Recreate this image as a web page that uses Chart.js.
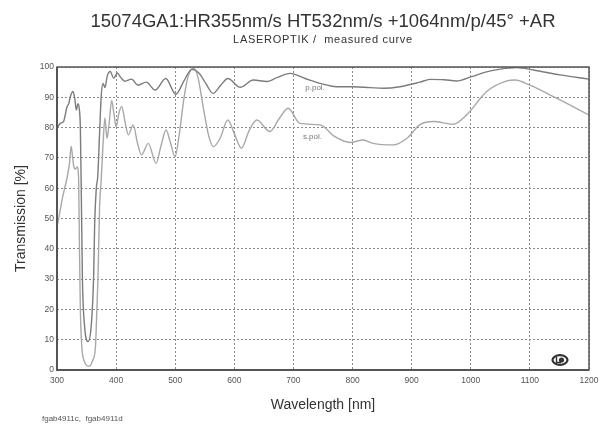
<!DOCTYPE html>
<html>
<head>
<meta charset="utf-8">
<script src="https://cdn.jsdelivr.net/npm/chart.js@4.4.1/dist/chart.umd.min.js"></script>
<style>
  html, body { margin: 0; padding: 0; background: #fff; }
  #c { display: block; }
</style>
</head>
<body>
<canvas id="c" width="601" height="426"></canvas>
<script>
// ---- texts ----
const titleText = "15074GA1:HR355nm/s HT532nm/s +1064nm/p/45° +AR";
const subtitleText = "LASEROPTIK /  measured curve";
const footText = "fgab4911c,  fgab4911d";
const xTitle = "Wavelength [nm]";
const yTitle = "Transmission [%]";
const seriesNames = ["p.pol.", "s.pol."];

// ---- ticks ----
const xTicks = [300, 400, 500, 600, 700, 800, 900, 1000, 1100, 1200];
const yTicks = [0, 10, 20, 30, 40, 50, 60, 70, 80, 90, 100];

// ---- p.pol. (wavelength nm, transmission %) ----
const pWl = [300, 305.6, 311, 317, 320, 322.6, 327, 330, 332.7, 335.5, 337.8, 339.5, 341, 343, 346.5, 352.5, 358, 362, 363.7, 366.5, 369, 372, 375, 378, 381, 385, 390, 396, 402, 408, 415, 426, 437, 451, 466, 484, 501, 515, 528, 540, 552, 564, 577, 589, 610, 632, 655, 672, 694, 720, 745, 773, 801, 830, 852, 880, 914, 931, 955, 976, 1001, 1025, 1050, 1078, 1106, 1151, 1200];
const pT  = [79.8, 81.4, 82, 86.9, 88, 90.2, 91.9, 89.7, 85.8, 87.9, 86, 80, 60, 30, 14.8, 9.4, 14.8, 31, 48, 60, 64, 78, 91, 94.6, 93.2, 97, 98.5, 96.3, 98, 96.5, 95.3, 96, 94, 95, 92.4, 96.2, 91, 95.5, 99.2, 98, 94.5, 91.3, 94, 96.2, 93.3, 95.7, 95.2, 96.5, 97.9, 96.2, 94.6, 93.5, 93.5, 93.2, 93, 93.5, 95, 95.9, 95.8, 95.4, 96.8, 98.3, 99.3, 99.8, 99, 97.4, 96];

// ---- s.pol. ----
const sWl = [300, 304, 308.5, 313, 317, 321, 324, 326.5, 328.5, 331, 334, 336.6, 338, 339.5, 342, 346, 353.6, 360, 365, 367.5, 369.4, 372, 375, 378, 381, 384.5, 388, 392.5, 396, 400, 405, 409.4, 415, 420.7, 429, 436, 443, 454.5, 467.5, 476, 484.4, 492, 499.7, 507, 515, 522, 530.7, 538, 548, 557, 564.5, 576, 589, 600, 612, 625, 638, 660, 676, 691, 711, 745, 770, 796, 818, 835, 869, 892, 914, 937, 970, 993, 1027, 1061, 1075, 1100, 1145, 1200];
const sT  = [47.3, 51.2, 56.1, 60, 63.4, 68, 73.9, 70, 67, 66.3, 67, 63, 40, 20, 7.6, 3, 1.2, 3, 7.6, 20, 31, 53.5, 63.6, 75, 83.2, 76.5, 81, 89, 85, 80.3, 85, 87, 82, 77.6, 80.9, 75, 71, 74.8, 68.2, 74, 79.2, 75, 70.4, 78, 90, 97, 99.6, 97, 86, 77, 73.7, 76.5, 82.5, 78, 73.2, 79, 82.5, 78.7, 83, 86.4, 81.4, 80.9, 77, 75.1, 75.9, 74.8, 74.3, 76.5, 81, 82, 81.1, 84.2, 91.9, 95.4, 95.7, 94, 89.7, 84.2];

const FONT = '"Liberation Sans", Arial, Helvetica, sans-serif';

const toPts = (xs, ys) => xs.map((v, i) => ({ x: v, y: ys[i] }));

const decor = {
  id: 'decor',
  beforeDraw(chart) {
    const ctx = chart.ctx;
    ctx.save();
    ctx.fillStyle = '#fff';
    ctx.fillRect(0, 0, chart.width, chart.height);
    ctx.restore();
  },
  afterDraw(chart) {
    const { ctx, chartArea: a, scales: { x, y } } = chart;
    ctx.save();
    // frame
    ctx.strokeStyle = '#555';
    ctx.lineWidth = 1.5;
    ctx.strokeRect(a.left, a.top, a.right - a.left, a.bottom - a.top);
    ctx.lineWidth = 2;
    ctx.beginPath();
    ctx.moveTo(a.left, a.top); ctx.lineTo(a.left, a.bottom); ctx.lineTo(a.right, a.bottom);
    ctx.stroke();

    // title / subtitle
    const cx = (a.left + a.right) / 2;
    ctx.fillStyle = '#333';
    ctx.textAlign = 'center';
    ctx.textBaseline = 'alphabetic';
    ctx.font = '18.5px ' + FONT;
    ctx.fillText(titleText, cx, 27);
    ctx.font = '11px ' + FONT;
    ctx.letterSpacing = '0.7px';
    ctx.fillText(subtitleText, cx, 43);
    ctx.letterSpacing = '0px';

    // series labels
    ctx.fillStyle = '#777';
    ctx.font = '8px ' + FONT;
    ctx.textAlign = 'left';
    ctx.textBaseline = 'middle';
    ctx.fillText(seriesNames[0], x.getPixelForValue(720), y.getPixelForValue(93.2));
    ctx.fillText(seriesNames[1], x.getPixelForValue(716), y.getPixelForValue(76.9));

    // footnote
    ctx.fillStyle = '#555';
    ctx.font = '8px ' + FONT;
    ctx.textBaseline = 'alphabetic';
    ctx.fillText(footText, 42, 421);

    // logo
    const lx = a.right - 29, ly = a.bottom - 10;
    ctx.strokeStyle = '#333';
    ctx.lineWidth = 2.2;
    ctx.beginPath();
    ctx.ellipse(lx, ly, 7.5, 4.8, 0, 0, Math.PI * 2);
    ctx.stroke();
    ctx.fillStyle = '#333';
    ctx.beginPath();
    ctx.arc(lx + 1.5, ly, 2.6, 0, Math.PI * 2);
    ctx.fill();
    ctx.lineWidth = 1.4;
    ctx.beginPath();
    ctx.moveTo(lx - 3.5, ly - 3); ctx.lineTo(lx - 3.5, ly + 2.5); ctx.lineTo(lx + 1, ly + 2.5);
    ctx.stroke();
    ctx.restore();
  }
};

new Chart(document.getElementById('c'), {
  type: 'line',
  data: {
    datasets: [
      {
        label: seriesNames[0],
        data: toPts(pWl, pT),
        borderColor: '#7c7c7c',
        borderWidth: 1.4,
        pointRadius: 0,
        cubicInterpolationMode: 'monotone',
        fill: false
      },
      {
        label: seriesNames[1],
        data: toPts(sWl, sT),
        borderColor: '#a8a8a8',
        borderWidth: 1.4,
        pointRadius: 0,
        cubicInterpolationMode: 'monotone',
        fill: false
      }
    ]
  },
  options: {
    responsive: false,
    animation: false,
    events: [],
    layout: { padding: { top: 67, right: 12, left: 0, bottom: 0 } },
    plugins: {
      legend: { display: false },
      title: { display: false },
      tooltip: { enabled: false }
    },
    scales: {
      x: {
        type: 'linear',
        min: xTicks[0],
        max: xTicks[xTicks.length - 1],
        afterFit: s => { s.height = 56; s.paddingLeft = 0; s.paddingRight = 0; },
        afterBuildTicks: s => { s.ticks = xTicks.map(v => ({ value: v })); },
        ticks: {
          color: '#555',
          font: { family: FONT, size: 8.5 },
          padding: 6,
          maxRotation: 0,
          autoSkip: false,
          callback: v => String(v)
        },
        grid: {
          color: '#8a8a8a',
          lineWidth: 1,
          drawTicks: false
        },
        border: { display: false, dash: [2, 2] },
        title: {
          display: true,
          text: xTitle,
          color: '#333',
          font: { family: FONT, size: 14 },
          padding: { top: 0, bottom: 12 }
        }
      },
      y: {
        type: 'linear',
        min: yTicks[0],
        max: yTicks[yTicks.length - 1],
        afterFit: s => { s.width = 57; s.paddingTop = 0; s.paddingBottom = 0; },
        afterBuildTicks: s => { s.ticks = yTicks.map(v => ({ value: v })); },
        ticks: {
          color: '#555',
          font: { family: FONT, size: 8.5 },
          padding: 3,
          autoSkip: false,
          callback: v => String(v)
        },
        grid: {
          color: '#8a8a8a',
          lineWidth: 1,
          drawTicks: false
        },
        border: { display: false, dash: [2, 2] },
        title: {
          display: true,
          text: yTitle,
          color: '#333',
          font: { family: FONT, size: 14 },
          padding: { top: 13, bottom: 0 }
        }
      }
    }
  },
  plugins: [decor]
});
</script>
</body>
</html>
